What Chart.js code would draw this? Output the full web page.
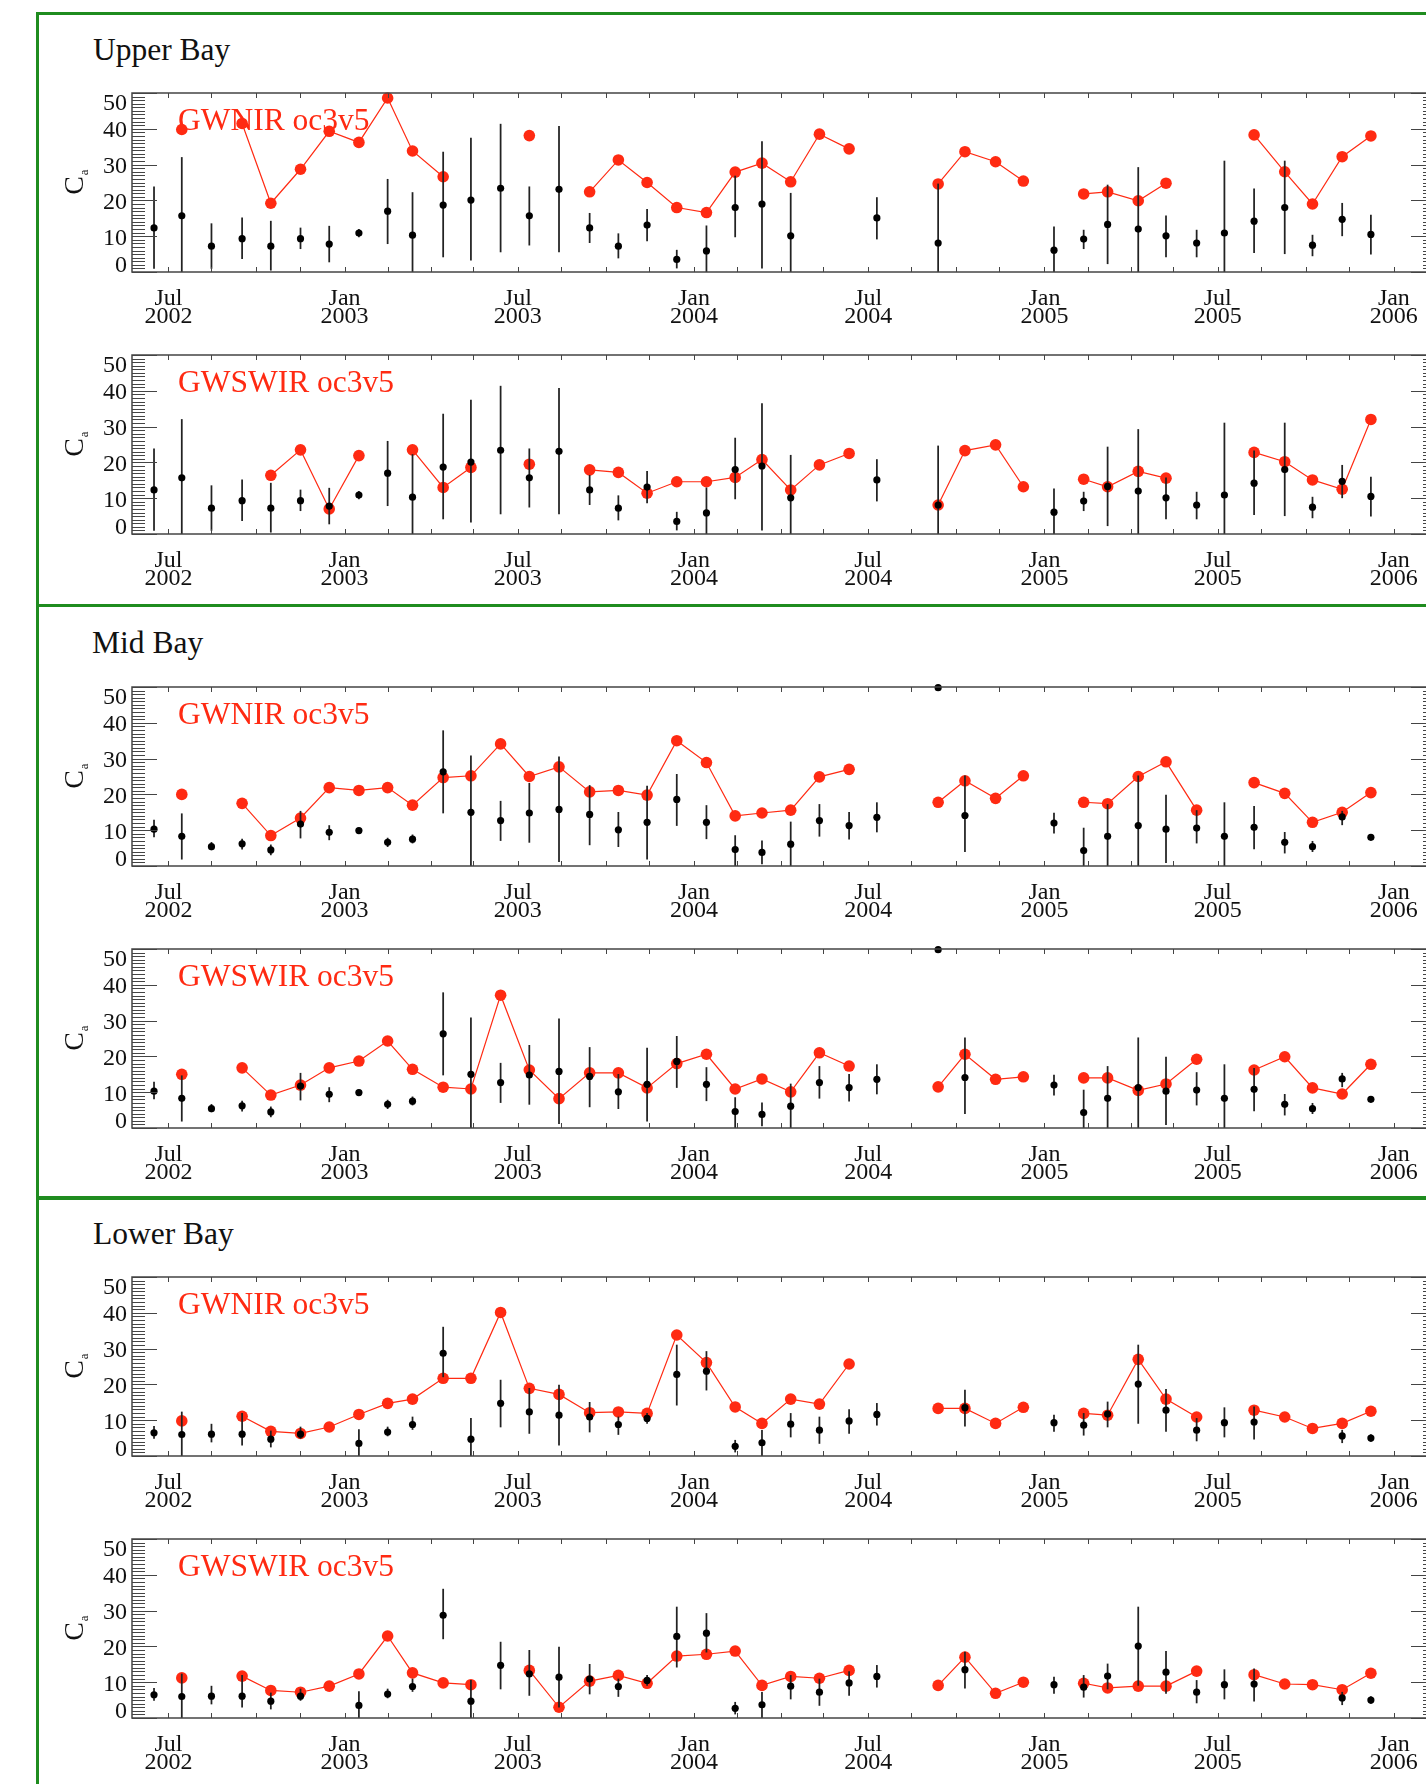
<!DOCTYPE html>
<html>
<head>
<meta charset="utf-8">
<script src="https://cdn.jsdelivr.net/npm/chart.js@4.4.1/dist/chart.umd.min.js"></script>
<style>
  html, body { margin: 0; padding: 0; background: #fff; overflow: hidden; }
  body { width: 1426px; height: 1784px; position: relative; }
  .frame { position: absolute; left: 36px; width: 1500px; border: 3px solid #1f8c1f; box-sizing: border-box; }
  .bay { position: absolute; font-family: 'Liberation Serif', 'Times New Roman', serif; font-size: 31.5px; line-height: 30px; color: #111; white-space: nowrap; }
  canvas { position: absolute; left: 0; }
</style>
</head>
<body>
<div class="frame" style="top:12px;height:595px"></div>
<div class="frame" style="top:604px;height:596px"></div>
<div class="frame" style="top:1196px;height:700px"></div>
<div class="bay" style="left:93px;top:35px">Upper Bay</div>
<div class="bay" style="left:92px;top:628px">Mid Bay</div>
<div class="bay" style="left:93px;top:1219px">Lower Bay</div>
<canvas id="c0" width="1460" height="259"></canvas>
<canvas id="c1" width="1460" height="259"></canvas>
<canvas id="c2" width="1460" height="259"></canvas>
<canvas id="c3" width="1460" height="259"></canvas>
<canvas id="c4" width="1460" height="259"></canvas>
<canvas id="c5" width="1460" height="259"></canvas>
<script>
// sampling dates (cruises / matchups)
const dates = ['2002-06-16','2002-07-15','2002-08-15','2002-09-16','2002-10-16','2002-11-16','2002-12-16',
  '2003-01-16','2003-02-15','2003-03-13','2003-04-14','2003-05-13','2003-06-13','2003-07-13','2003-08-13',
  '2003-09-14','2003-10-14','2003-11-13','2003-12-14','2004-01-14','2004-02-13','2004-03-12','2004-04-11',
  '2004-05-11','2004-06-11','2004-07-10','2004-09-12','2004-10-10','2004-11-11','2004-12-10','2005-01-11',
  '2005-02-11','2005-03-08','2005-04-09','2005-05-08','2005-06-09','2005-07-08','2005-08-08','2005-09-09',
  '2005-10-08','2005-11-08','2005-12-08'];

// in situ Ca (black) with low / high of the bars
const upperObs = [12.3,15.7,7.2,9.3,7.2,9.3,7.8,10.9,17.0,10.3,18.7,20.1,23.4,15.7,23.1,12.3,7.2,13.1,3.5,5.9,18.0,19.0,10.1,null,null,15.1,8.1,null,null,null,6.1,9.2,13.3,12.0,10.1,8.1,10.9,14.2,18.0,7.5,14.7,10.5];
const upperLo  = [1,0,1,3.7,0.5,6.5,2.8,9.8,7.9,0,4.2,3.3,5.6,7.5,5.6,8.2,3.9,8.7,1.1,0,9.8,1.1,0,null,null,9.2,0,null,null,null,0,6.5,2.3,0,4.2,4.2,0,5.4,5.1,4.5,10.1,5];
const upperHi  = [23.8,32,13.5,15.1,14.2,12.3,12.8,11.9,25.9,22.2,33.5,37.4,41.3,23.8,40.7,16.4,10.7,17.5,6.1,12.9,26.8,36.4,22,null,null,20.8,24.6,null,null,null,12.6,11.7,24.3,29.2,15.7,11.7,31,23.2,31,10.3,19.2,15.9];

const midObs = [10.3,8.3,5.4,6.2,4.5,11.7,9.4,9.9,6.6,7.5,26.3,15.0,12.7,14.8,15.8,14.4,10.1,12.2,18.6,12.2,4.6,3.8,6.1,12.7,11.3,13.6,49.8,14.1,null,null,12.0,4.3,8.3,11.3,10.3,10.6,8.3,10.8,6.6,5.4,13.7,8.0];
const midLo  = [8.1,1.9,4.5,4.7,3.1,7.8,7.3,9.2,5.4,6.4,14.8,0,7.1,6.6,1.2,5.9,5.4,1.9,11.3,7.6,0,0.6,0,8.3,7.5,9.5,null,4.0,null,null,9.2,0,0,0,0.9,6.4,0,4.8,3.6,4.0,11.5,7.3];
const midHi  = [12.8,14.6,6.6,7.5,5.9,15.3,11.3,10.6,7.8,8.7,37.8,30.8,18.1,23.1,30.5,22.5,15.0,22.3,25.6,16.9,8.5,7.0,12.3,17.2,15.0,17.7,null,25.2,null,null,14.8,10.6,17.2,25.2,19.8,15.5,17.7,16.7,9.4,6.9,15.3,8.7];

const lowerObs = [6.5,6.0,6.1,6.1,4.7,6.1,null,3.5,6.7,8.8,28.7,4.7,14.7,12.3,11.4,10.9,8.8,10.5,22.8,23.7,2.7,3.7,8.9,7.2,9.8,11.6,null,13.5,null,null,9.3,8.6,11.7,20.1,12.8,7.2,9.3,9.5,null,null,5.6,5.0];
const lowerLo  = [4.9,0,3.9,3.0,2.5,4.9,null,0,5.6,7.4,22.1,0,8.1,6.3,3.0,6.7,6.0,9.1,14.2,18.4,1.1,0,5.3,3.5,6.3,8.6,null,8.3,null,null,6.9,5.8,8.1,9.1,6.9,4.2,5.3,4.7,null,null,3.7,4.1];
const lowerHi  = [8.3,12.3,8.9,11.9,7.0,8.1,null,7.4,8.1,10.9,36.0,10.5,21.2,18.9,19.8,15.0,10.9,11.9,31.0,29.2,4.4,7.2,11.9,10.9,13.0,14.7,null,18.4,null,null,11.4,11.9,15.1,31.0,18.6,10.5,13.5,13.7,null,null,7.2,6.0];

// satellite Ca (red)
const upperNir  = [null,39.8,null,41.5,19.2,28.7,39.3,36.2,48.6,33.8,26.6,null,null,38.1,null,22.4,31.3,25.0,18.0,16.6,27.9,30.4,25.2,38.5,34.4,null,24.6,33.6,30.8,25.4,null,21.8,22.4,19.9,24.8,null,null,38.3,28.0,19.0,32.2,38.0];
const upperSwir = [null,null,null,null,16.4,23.5,7.0,21.9,null,23.5,13.0,18.6,null,19.5,null,17.9,17.2,11.4,14.6,14.6,15.8,20.8,12.3,19.3,22.5,null,8.1,23.3,24.9,13.2,null,15.3,13.2,17.5,15.6,null,null,22.8,20.2,15.1,12.5,32.0];
const midNir    = [null,20.0,null,17.5,8.5,13.4,21.9,21.1,21.9,17.0,24.7,25.2,34.1,25.0,27.7,20.7,21.1,19.8,35.0,28.9,14.0,14.8,15.6,24.9,27.0,null,17.8,23.8,18.9,25.2,null,17.8,17.4,25.0,29.1,15.6,null,23.3,20.3,12.2,15.0,20.5];
const midSwir   = [null,15.0,null,16.8,9.2,12.0,16.8,18.7,24.3,16.4,11.4,10.9,37.1,16.2,8.2,15.4,15.4,11.2,18.0,20.6,10.9,13.7,10.1,21.0,17.3,null,11.5,20.6,13.6,14.3,null,14.0,14.0,10.5,12.3,19.2,null,16.2,19.9,11.2,9.5,17.8];
const lowerNir  = [null,9.8,null,11.1,6.9,6.3,8.1,11.6,14.7,15.9,21.7,21.7,40.1,18.9,17.2,12.1,12.3,11.9,33.8,26.1,13.7,9.1,15.9,14.5,25.7,null,13.3,13.3,9.1,13.6,null,11.9,11.4,27.0,15.9,10.9,null,12.8,10.9,7.7,9.1,12.5];
const lowerSwir = [null,11.2,null,11.7,7.7,7.2,8.9,12.3,22.9,12.6,9.8,9.3,null,13.3,3.0,10.3,11.9,9.7,17.3,17.8,18.7,9.1,11.6,11.1,13.3,null,9.1,17.0,6.9,10.0,null,9.7,8.4,8.9,8.9,13.1,null,12.1,9.5,9.3,7.9,12.5];

const xTickDates = ['2002-07-01','2003-01-01','2003-07-01','2004-01-01','2004-07-01','2005-01-01','2005-07-01','2006-01-01'];
const xTickLabels = [['Jul','2002'],['Jan','2003'],['Jul','2003'],['Jan','2004'],['Jul','2004'],['Jan','2005'],['Jul','2005'],['Jan','2006']];
const yTickValues = [0, 10, 20, 30, 40, 50];
const yTickLabels = ['0', '10', '20', '30', '40', '50'];

const t = s => Date.parse(s + 'T00:00:00Z');
const X_MIN = t('2002-05-24');
const X_MAX = t('2006-02-14');

// minor x ticks every month and a half
const minorTicks = [];
for (let yr = 2002; yr <= 2006; yr++) {
  for (const md of ['01-01','02-15','04-01','05-15','07-01','08-15','10-01','11-15']) minorTicks.push(t(yr + '-' + md));
}

const RED = '#ff2a12';
const SERIF = "'Liberation Serif', 'Times New Roman', serif";

const panels = [
  {obs: upperObs, lo: upperLo, hi: upperHi, sat: upperNir,  label: 'GWNIR oc3v5'},
  {obs: upperObs, lo: upperLo, hi: upperHi, sat: upperSwir, label: 'GWSWIR oc3v5'},
  {obs: midObs,   lo: midLo,   hi: midHi,   sat: midNir,    label: 'GWNIR oc3v5'},
  {obs: midObs,   lo: midLo,   hi: midHi,   sat: midSwir,   label: 'GWSWIR oc3v5'},
  {obs: lowerObs, lo: lowerLo, hi: lowerHi, sat: lowerNir,  label: 'GWNIR oc3v5'},
  {obs: lowerObs, lo: lowerLo, hi: lowerHi, sat: lowerSwir, label: 'GWSWIR oc3v5'}
];
const plotTops = [93, 355, 687, 949, 1277, 1539];
const PAD_TOP = 20;

// frame, inward ticks, y labels, axis title and series label
const panelDecor = {
  id: 'panelDecor',
  beforeDatasetsDraw(chart, args, opts) {
    const {ctx, chartArea: a} = chart;
    ctx.save();
    ctx.fillStyle = RED;
    ctx.font = '31.5px ' + SERIF;
    ctx.textBaseline = 'alphabetic';
    ctx.fillText(opts.label, a.left + 46, a.top + 37);
    ctx.restore();
  },
  afterDraw(chart) {
    const {ctx, chartArea: a, scales: {x, y}} = chart;
    ctx.save();
    ctx.strokeStyle = '#444';
    ctx.lineWidth = 1;
    ctx.beginPath();
    for (let v = 0; v <= 50; v++) {
      const py = Math.round(y.getPixelForValue(v)) + 0.5;
      const len = v % 10 === 0 ? 25 : 13;
      ctx.moveTo(a.left, py); ctx.lineTo(a.left + len, py);
      ctx.moveTo(a.right, py); ctx.lineTo(a.right - len, py);
    }
    minorTicks.forEach(v => {
      if (v <= X_MIN || v >= X_MAX) return;
      const px = Math.round(x.getPixelForValue(v)) + 0.5;
      ctx.moveTo(px, a.bottom); ctx.lineTo(px, a.bottom - 5);
      ctx.moveTo(px, a.top); ctx.lineTo(px, a.top + 5);
    });
    ctx.stroke();
    ctx.lineWidth = 1.5;
    ctx.strokeRect(a.left, a.top, a.width, a.height);

    // y tick labels, end ones pulled inside the axis range
    ctx.fillStyle = '#111';
    ctx.font = '24px ' + SERIF;
    ctx.textAlign = 'right';
    ctx.textBaseline = 'alphabetic';
    yTickValues.forEach((v, i) => {
      const py = y.getPixelForValue(v);
      let off = 8.3;
      if (v === y.max) off = 16.5;
      if (v === y.min) off = 0;
      ctx.fillText(yTickLabels[i], a.left - 5, py + off);
    });

    // C with subscript a
    ctx.translate(74, (a.top + a.bottom) / 2);
    ctx.rotate(-Math.PI / 2);
    ctx.textAlign = 'left';
    ctx.font = '28px ' + SERIF;
    const w = ctx.measureText('C').width;
    ctx.fillText('C', -w / 2 - 3, 9);
    ctx.font = '13px ' + SERIF;
    ctx.fillText('a', w / 2 - 2, 14);
    ctx.restore();
  }
};

panels.forEach((p, k) => {
  const cv = document.getElementById('c' + k);
  cv.style.top = (plotTops[k] - PAD_TOP) + 'px';

  const obsPts = [], bars = [];
  dates.forEach((d, i) => {
    if (p.obs[i] !== null) obsPts.push({x: t(d), y: p.obs[i]});
    if (p.lo[i] !== null) bars.push({x: t(d), y: [p.lo[i], p.hi[i]]});
  });
  const satPts = dates.map((d, i) => ({x: t(d), y: p.sat[i]}));

  new Chart(cv, {
    type: 'line',
    data: {
      datasets: [
        {
          type: 'line',
          data: obsPts,
          showLine: false,
          pointRadius: 3.6,
          pointBackgroundColor: '#000',
          pointBorderWidth: 0,
          clip: false,
          order: 0
        },
        {
          type: 'bar',
          data: bars,
          backgroundColor: '#222',
          barThickness: 1.1,
          grouped: false,
          order: 1
        },
        {
          type: 'line',
          data: satPts,
          borderColor: RED,
          borderWidth: 1.2,
          pointRadius: 5.8,
          pointBackgroundColor: RED,
          pointBorderWidth: 0,
          spanGaps: false,
          clip: false,
          order: 2
        }
      ]
    },
    options: {
      responsive: false,
      animation: false,
      events: [],
      layout: {padding: {left: 57, right: 24, top: PAD_TOP, bottom: 0}},
      plugins: {
        legend: {display: false},
        tooltip: {enabled: false},
        panelDecor: {label: p.label}
      },
      scales: {
        x: {
          type: 'linear',
          min: X_MIN,
          max: X_MAX,
          offset: false,
          grid: {display: false, drawTicks: false},
          border: {display: false},
          afterBuildTicks: s => { s.ticks = xTickDates.map(d => ({value: t(d)})); },
          afterFit: s => { s.height = 60; },
          ticks: {
            autoSkip: false,
            maxRotation: 0,
            padding: 17,
            color: '#111',
            font: {family: SERIF, size: 24, lineHeight: 0.78},
            callback: v => xTickLabels[xTickDates.map(t).indexOf(v)]
          }
        },
        y: {
          type: 'linear',
          min: 0,
          max: 50,
          grid: {display: false, drawTicks: false},
          border: {display: false},
          ticks: {display: false, stepSize: 10},
          afterFit: s => { s.width = 75; }
        }
      }
    },
    plugins: [panelDecor]
  });
});
</script>
</body>
</html>
